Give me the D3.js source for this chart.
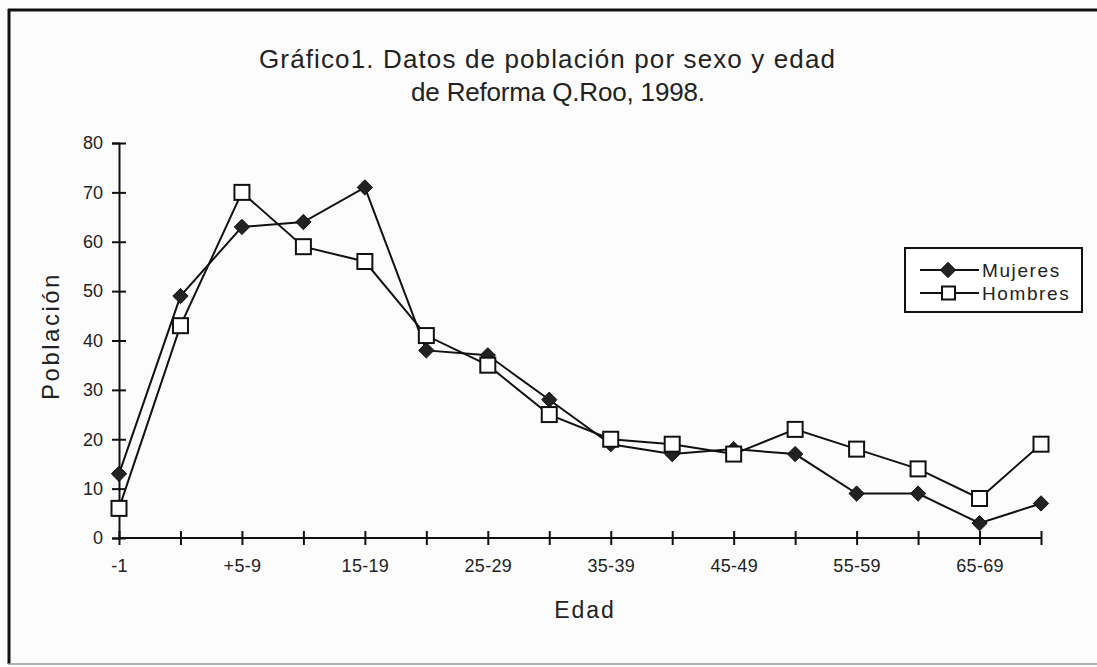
<!DOCTYPE html>
<html>
<head>
<meta charset="utf-8">
<script src="https://cdn.jsdelivr.net/npm/d3@7"></script>
<style>
  body { margin: 0; background: #fcfcfc; }
  svg { display: block; font-family: "Liberation Sans", Arial, sans-serif; }
</style>
</head>
<body>
<div id="chart"></div>
<script>
const edades = ["-1", "1-4", "+5-9", "10-14", "15-19", "20-24", "25-29", "30-34",
                "35-39", "40-44", "45-49", "50-54", "55-59", "60-64", "65-69", "70+"];
const shownLabels = ["-1", "+5-9", "15-19", "25-29", "35-39", "45-49", "55-59", "65-69"];
const mujeres = [13, 49, 63, 64, 71, 38, 37, 28, 19, 17, 18, 17, 9, 9, 3, 7];
const hombres = [6, 43, 70, 59, 56, 41, 35, 25, 20, 19, 17, 22, 18, 14, 8, 19];
const yTicks = [0, 10, 20, 30, 40, 50, 60, 70, 80];

const W = 1097, H = 667;
const FONT = "Liberation Sans, Arial, sans-serif";
const svg = d3.select("#chart").append("svg")
    .attr("width", W)
    .attr("height", H);

// frame
svg.append("line").attr("x1", 8).attr("x2", W).attr("y1", 10).attr("y2", 10)
    .attr("stroke", "#111").attr("stroke-width", 3);
svg.append("line").attr("x1", 9).attr("x2", 9).attr("y1", 9).attr("y2", 664)
    .attr("stroke", "#111").attr("stroke-width", 3);
svg.append("line").attr("x1", 8).attr("x2", W).attr("y1", 664).attr("y2", 664)
    .attr("stroke", "#999").attr("stroke-width", 1.5);

const x = d3.scalePoint().domain(edades).range([119, 1041]);
const y = d3.scaleLinear().domain([0, 80]).range([538, 143]);

// title
svg.append("text").attr("x", 547).attr("y", 68).attr("text-anchor", "middle")
    .attr("font-size", 26).attr("fill", "#222")
    .attr("textLength", 576).attr("lengthAdjust", "spacing")
    .text("Gráfico1. Datos de población por sexo y edad");
svg.append("text").attr("x", 558).attr("y", 101).attr("text-anchor", "middle")
    .attr("font-size", 26).attr("fill", "#222")
    .attr("textLength", 294).attr("lengthAdjust", "spacing")
    .text("de Reforma Q.Roo, 1998.");

// y axis
const yAxis = svg.append("g")
    .attr("transform", "translate(" + x(edades[0]) + ",0)")
    .call(d3.axisLeft(y).tickValues(yTicks).tickSize(7).tickPadding(6));
yAxis.attr("font-size", 18).attr("font-family", FONT);
yAxis.select(".domain").attr("stroke", "#111").attr("stroke-width", 2);
yAxis.selectAll(".tick line").attr("x2", 7).attr("x1", -7)
    .attr("stroke", "#111").attr("stroke-width", 2);
yAxis.selectAll(".tick text").attr("fill", "#222").attr("x", -16);

// x axis
const xAxis = svg.append("g")
    .attr("transform", "translate(0," + y(0) + ")")
    .call(d3.axisBottom(x).tickSize(7).tickPadding(14)
        .tickFormat(d => shownLabels.includes(d) ? d : ""));
xAxis.attr("font-size", 18).attr("font-family", FONT);
xAxis.select(".domain").attr("stroke", "#111").attr("stroke-width", 2)
    .attr("d", "M" + x.range()[0] + ",0H" + x.range()[1]);
xAxis.selectAll(".tick line").attr("y1", -7).attr("y2", 7)
    .attr("stroke", "#111").attr("stroke-width", 2);
xAxis.selectAll(".tick text").attr("fill", "#222").attr("letter-spacing", 0.3);

// axis titles
svg.append("text").attr("x", 585).attr("y", 618).attr("text-anchor", "middle")
    .attr("font-size", 23).attr("fill", "#222").attr("letter-spacing", 2).text("Edad");
svg.append("text")
    .attr("transform", "translate(59,336) rotate(-90)")
    .attr("text-anchor", "middle").attr("font-size", 24).attr("fill", "#222")
    .attr("letter-spacing", 2.5).text("Población");

// lines
const line = d3.line().x((d, i) => x(edades[i])).y(d => y(d));
svg.append("path").datum(mujeres).attr("d", line)
    .attr("fill", "none").attr("stroke", "#111").attr("stroke-width", 2);
svg.append("path").datum(hombres).attr("d", line)
    .attr("fill", "none").attr("stroke", "#111").attr("stroke-width", 2);

const diamond = d3.symbol().type(d3.symbolDiamond2).size(150);

svg.append("g").selectAll("path")
    .data(mujeres).enter().append("path")
    .attr("d", diamond)
    .attr("transform", (d, i) => "translate(" + x(edades[i]) + "," + y(d) + ")")
    .attr("fill", "#222").attr("stroke", "#111").attr("stroke-width", 1);

svg.append("g").selectAll("rect")
    .data(hombres).enter().append("rect")
    .attr("x", (d, i) => x(edades[i]) - 7.5)
    .attr("y", d => y(d) - 7.5)
    .attr("width", 15).attr("height", 15)
    .attr("fill", "#fff").attr("stroke", "#111").attr("stroke-width", 2);

// legend
const legend = svg.append("g").attr("transform", "translate(905,248)");
legend.append("rect").attr("width", 177).attr("height", 64)
    .attr("fill", "#fff").attr("stroke", "#111").attr("stroke-width", 2);
const series = [
    { name: "Mujeres", type: "diamond" },
    { name: "Hombres", type: "square" }
];
series.forEach((s, i) => {
    const ly = 22 + i * 23;
    legend.append("line").attr("x1", 15).attr("x2", 74).attr("y1", ly).attr("y2", ly)
        .attr("stroke", "#111").attr("stroke-width", 2);
    if (s.type === "diamond") {
        legend.append("path").attr("d", diamond)
            .attr("transform", "translate(43," + ly + ")")
            .attr("fill", "#222").attr("stroke", "#111");
    } else {
        legend.append("rect").attr("x", 37).attr("y", ly - 6.5).attr("width", 13).attr("height", 13)
            .attr("fill", "#fff").attr("stroke", "#111").attr("stroke-width", 2);
    }
    legend.append("text").attr("x", 77).attr("y", ly + 7)
        .attr("font-size", 19).attr("fill", "#222").attr("letter-spacing", 1.6)
        .text(s.name);
});
</script>
</body>
</html>
